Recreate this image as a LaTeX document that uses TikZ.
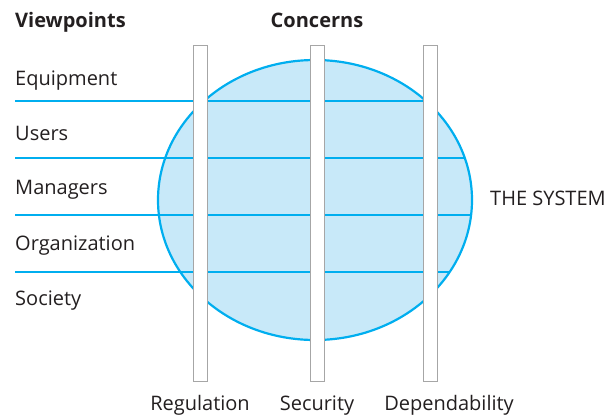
\documentclass[tikz,border=0pt]{standalone}
\usepackage{fontspec}
\setmainfont{Open Sans}
\usetikzlibrary{shapes.geometric}
\definecolor{sysline}{HTML}{00AEEF}
\definecolor{sysfill}{HTML}{C8E9F9}
\definecolor{bargray}{HTML}{A6A6A6}
\definecolor{txt}{HTML}{231F20}
\begin{document}
\begin{tikzpicture}[x=1pt,y=-1pt,
  lab/.style={font=\fontsize{20}{22}\selectfont, text=txt, inner sep=0pt},
  head/.style={lab, font=\fontsize{20}{22}\selectfont\bfseries},
  vline/.style={draw=sysline, line width=2pt},
  bar/.style={draw=bargray, fill=white, line width=1pt, minimum width=14pt, minimum height=336pt, inner sep=0pt}]
\useasboundingbox (0,0) rectangle (608,416);
% the system
\node[draw=sysline, fill=sysfill, line width=2.2pt, ellipse, minimum width=314pt, minimum height=280pt, inner sep=0pt] (sys) at (315,200) {};
% viewpoint lines
\coordinate (l1s) at (15,101); \coordinate (l1e) at (426,101);
\coordinate (l2s) at (15,158); \coordinate (l2e) at (465,158);
\coordinate (l3s) at (15,215); \coordinate (l3e) at (471,215);
\coordinate (l4s) at (15,272); \coordinate (l4e) at (450,272);
\draw[vline] (l1s) -- (l1e);
\draw[vline] (l2s) -- (l2e);
\draw[vline] (l3s) -- (l3e);
\draw[vline] (l4s) -- (l4e);
% concern bars
\node[bar] (reg) at (200,213) {};
\node[bar] (sec) at (317.5,213) {};
\node[bar] (dep) at (430.5,213) {};
% headings
\node[head, anchor=base west] (vp) at (15,27) {Viewpoints};
\node[head, anchor=base] (cc) at (317,27) {Concerns};
% viewpoints
\node[lab, anchor=base west] (equ) at (15,85) {Equipment};
\node[lab, anchor=base west] (usr) at (15,140) {Users};
\node[lab, anchor=base west] (man) at (15,194) {Managers};
\node[lab, anchor=base west] (org) at (15,250) {Organization};
\node[lab, anchor=base west] (soc) at (15,305) {Society};
% system label
\node[lab, anchor=base west] (ts) at (490,205) {THE SYSTEM};
% concern labels
\node[lab, anchor=base] (regl) at (200,410) {Regulation};
\node[lab, anchor=base] (secl) at (317,410) {Security};
\node[lab, anchor=base] (depl) at (449,410) {Dependability};
\end{tikzpicture}
\end{document}
